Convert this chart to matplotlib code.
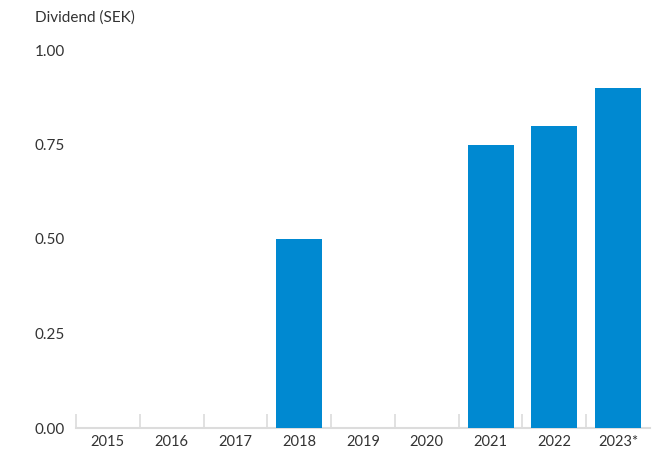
import matplotlib.pyplot as plt
import numpy as np

plt.rcParams['font.family'] = ['Lato', 'DejaVu Sans']

years = ['2015', '2016', '2017', '2018', '2019', '2020', '2021', '2022', '2023*']
dividend = [0, 0, 0, 0.50, 0, 0, 0.75, 0.80, 0.90]
yticks = [0.0, 0.25, 0.50, 0.75, 1.00]

blue = '#0089d1'
grey = '#dcdcdc'
text = '#333333'

fig = plt.figure(figsize=(6.52, 4.5), dpi=100)
ax = fig.add_axes([76/652, 22/450, 574/652, 378/450])

x = np.arange(len(years))
ax.bar(x, dividend, width=0.72, color=blue, zorder=3)

ax.set_xlim(-0.5, len(years) - 0.5)
ax.set_ylim(0, 1.0)
ax.set_yticks(yticks)
ax.set_yticklabels(['%.2f' % v for v in yticks])
ax.set_xticks(x)
ax.set_xticklabels(years)

# short separators between the year categories
ax.set_xticks(np.arange(-0.5, len(years) - 1, 1.0), minor=True)
ax.tick_params(axis='x', which='minor', direction='in', length=10, width=1.2, color=grey)
ax.tick_params(axis='x', which='major', length=0, pad=5, labelsize=10.5, labelcolor=text)
ax.tick_params(axis='y', length=0, pad=8, labelsize=11, labelcolor=text)

for s in ['top', 'right', 'left']:
    ax.spines[s].set_visible(False)
ax.spines['bottom'].set_color(grey)
ax.spines['bottom'].set_linewidth(1.5)

fig.text(35/652, 1 - 18/450, 'Dividend (SEK)', fontsize=11, color=text, va='center', ha='left')

fig.savefig('out.png', dpi=100)
